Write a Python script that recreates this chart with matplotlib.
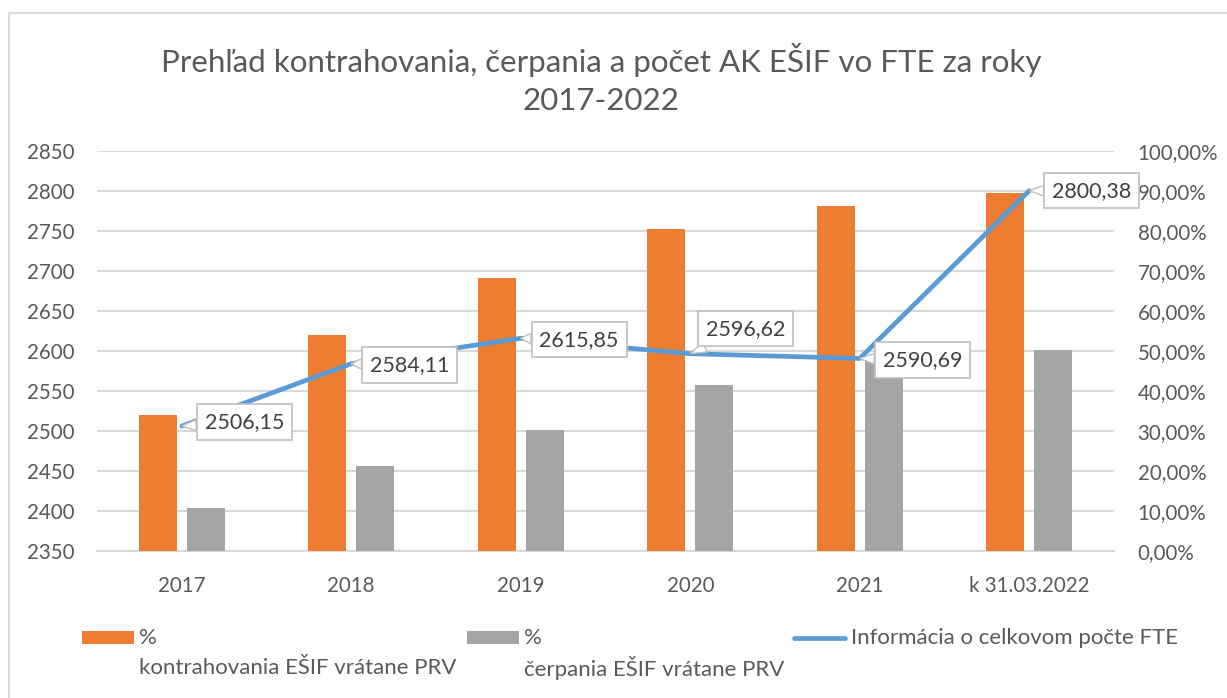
import matplotlib
matplotlib.use("Agg")
import matplotlib.pyplot as plt
from matplotlib.ticker import FuncFormatter, MultipleLocator
from matplotlib.patches import Rectangle
from matplotlib.lines import Line2D
import numpy as np

# ---- data ----
categories = ["2017", "2018", "2019", "2020", "2021", "k 31.03.2022"]
kontrahovanie_pct = [33.9, 54.1, 68.3, 80.5, 86.2, 89.5]
cerpanie_pct = [10.8, 21.2, 30.3, 41.6, 48.0, 50.3]
fte_total = [2506.15, 2584.11, 2615.85, 2596.62, 2590.69, 2800.38]

title = "Prehľad kontrahovania, čerpania a počet AK EŠIF vo FTE za roky\n2017-2022"
legend_labels = ["%\nkontrahovania EŠIF vrátane PRV",
                 "%\nčerpania EŠIF vrátane PRV",
                 "Informácia o celkovom počte FTE"]

# ---- style ----
ORANGE = "#ED7D31"
GRAY = "#A5A5A5"
BLUE = "#5B9BD5"
TXT = "#595959"
GRID = "#D9D9D9"
FONT = ["Lato", "DejaVu Sans"]
plt.rcParams["font.family"] = FONT

W, H = 1227, 698
fig = plt.figure(figsize=(W / 100, H / 100), dpi=100)
fig.patch.set_facecolor("white")

def fx(x):
    return x / W

def fy(y):
    return 1 - y / H

# axes area in pixels
L, R, T, B = 97, 1114, 151, 551
ax2 = fig.add_axes([fx(L), fy(B), (R - L) / W, (B - T) / H])
ax = ax2.twinx()
# ax: line + left labels drawn on top; ax2: bars + grid + right labels
ax.set_zorder(ax2.get_zorder() + 1)
ax.patch.set_visible(False)

x = np.arange(len(categories))
bw = 0.224
off = 0.1416
ax2.bar(x - off, kontrahovanie_pct, bw, color=ORANGE, zorder=3)
ax2.bar(x + off, cerpanie_pct, bw, color=GRAY, zorder=3)
ax2.set_ylim(0, 100)
ax2.yaxis.set_major_locator(MultipleLocator(10))
ax2.yaxis.set_major_formatter(FuncFormatter(lambda v, p: f"{v:.2f}".replace(".", ",") + "%"))
ax2.yaxis.tick_right()
ax2.grid(axis="y", color=GRID, lw=1.5, zorder=0)
ax2.set_axisbelow(True)
ax2.set_xlim(-0.5, len(categories) - 0.5)
ax2.set_xticks(x)
ax2.set_xticklabels(categories)

ax.plot(x, fte_total, color=BLUE, lw=3.4, solid_capstyle="round", solid_joinstyle="round", zorder=4)
ax.set_ylim(2350, 2850)
ax.yaxis.set_major_locator(MultipleLocator(50))
ax.yaxis.tick_left()
ax.yaxis.set_label_position("left")
ax.set_xlim(-0.5, len(categories) - 0.5)

for a in (ax, ax2):
    for s in a.spines.values():
        s.set_visible(False)
    a.tick_params(length=0, labelsize=14.8, colors=TXT)
ax2.tick_params(axis="y", pad=17)
ax.tick_params(axis="y", pad=16)
ax2.tick_params(axis="x", pad=18)
ax2.spines["bottom"].set_visible(True)
ax2.spines["bottom"].set_color(GRID)
ax2.spines["bottom"].set_linewidth(1.5)

# data labels (callouts)
label_offsets = [(45, 3), (42, -1), (42, -1), (40, 18), (45, -1), (45, 0)]
for xi, v, (dx, dy) in zip(x, fte_total, label_offsets):
    ax.annotate(f"{v:.2f}".replace(".", ","), xy=(xi, v), xytext=(dx, dy),
                textcoords="offset points", ha="center", va="center",
                fontsize=15.5, color="#404040", zorder=6,
                bbox=dict(boxstyle="square,pad=0.36", fc="white", ec="#BFBFBF", lw=1.2),
                arrowprops=dict(arrowstyle="wedge,tail_width=0.5,shrink_factor=0.5",
                                fc="white", ec="#BFBFBF", lw=1.0,
                                shrinkA=0, shrinkB=0))

# title
fig.text(0.49, fy(79), title, ha="center", va="center", fontsize=22.5, color=TXT,
         linespacing=1.4)

# chart border (partially cropped)
fig.add_artist(Line2D([fx(9), fx(9)], [fy(13), 0], transform=fig.transFigure, color=GRID, lw=1.5))
fig.add_artist(Line2D([fx(9), 1], [fy(13), fy(13)], transform=fig.transFigure, color=GRID, lw=1.5))

# legend (manual)
fs_leg = 16
handles_x = [82, 467]
colors = [ORANGE, GRAY]
for hx, c, lab in zip(handles_x, colors, legend_labels[:2]):
    fig.add_artist(Rectangle((fx(hx), fy(644)), 52 / W, 13 / H, transform=fig.transFigure,
                             facecolor=c, edgecolor="none"))
    l1, l2 = lab.split("\n")
    fig.text(fx(hx + 57), fy(638), l1, ha="left", va="center", fontsize=fs_leg, color=TXT)
    fig.text(fx(hx + 57), fy(668), l2, ha="left", va="center", fontsize=fs_leg, color=TXT)
fig.add_artist(Line2D([fx(794), fx(845)], [fy(638), fy(638)], transform=fig.transFigure,
                      color=BLUE, lw=3.4, solid_capstyle="round"))
fig.text(fx(851), fy(638), legend_labels[2], ha="left", va="center", fontsize=fs_leg, color=TXT)

fig.savefig("out.png", dpi=100, facecolor="white")
